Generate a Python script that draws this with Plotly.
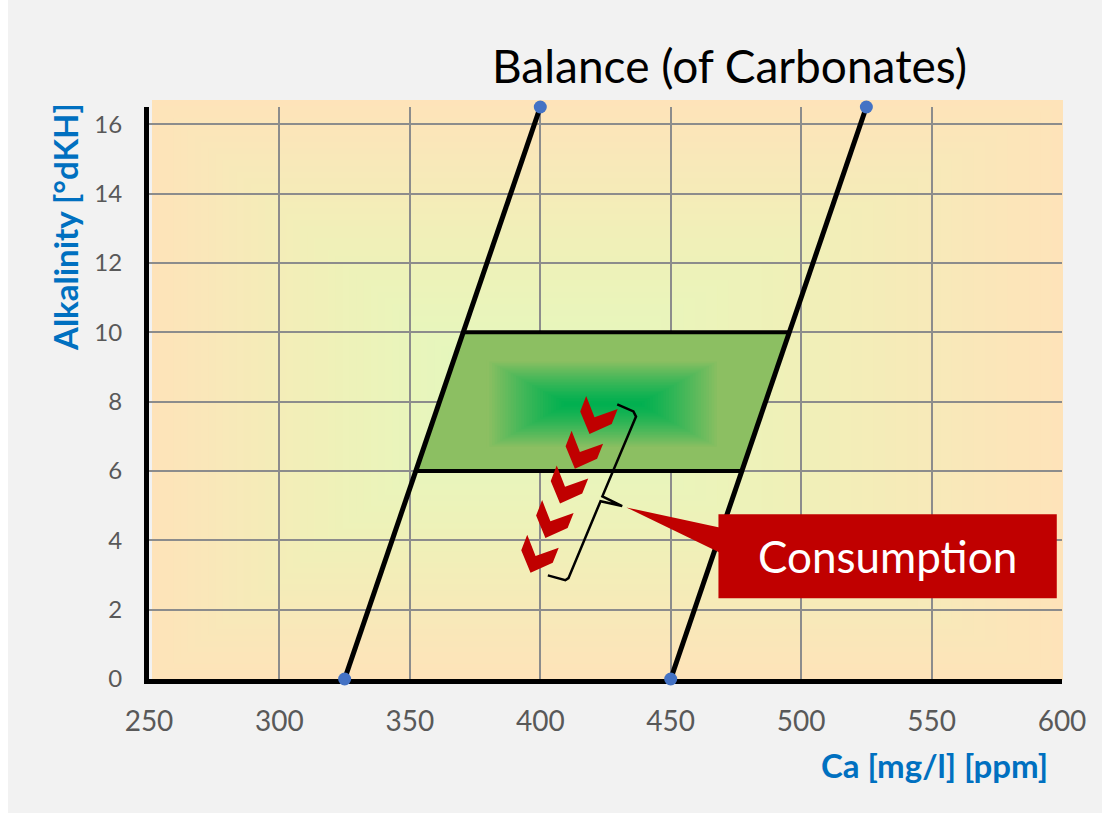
import plotly.graph_objects as go

# ---------------- data ----------------
ca_ticks = [250, 300, 350, 400, 450, 500, 550, 600]
alk_ticks = [0, 2, 4, 6, 8, 10, 12, 14, 16]
ca_low_line = [325, 400]
ca_high_line = [450, 525]
alk_line = [0, 16.5]
target_alk = [6, 10]
chevron_ca = [417.6, 412.0, 406.3, 400.7, 395.0]
chevron_alk = [8.16, 7.16, 6.16, 5.16, 4.16]
brace_ca = [429.5, 435.7, 436.7, 423.8, 431.4, 423.1, 410.8, 409.6, 402.9]
brace_alk = [7.92, 7.72, 7.57, 5.27, 4.99, 5.13, 2.91, 2.85, 2.99]
callout_box_ca = [468.3, 598.0]
callout_box_alk = [2.33, 4.75]
callout_tip = (433.0, 4.95)
callout_base_ca = 468.7
callout_base_alk = [4.37, 3.65]
core_center = (424.1, 7.93)
core_size = (89.3, 2.54)

# ---------------- geometry / style ----------------
W, H = 1102, 813
ML, MT, PW, PH = 149, 107, 913, 572
MR, MB = W - ML - PW, H - MT - PH
XR = [250, 600]
YR = [0, 16.5]
ppx = PW / (XR[1] - XR[0])
ppy = PH / (YR[1] - YR[0])


def fx(px):
    return (px - ML) / PW


def fy(py):
    return (MT + PH - py) / PH


def hex2rgb(h):
    h = h.lstrip('#')
    return [int(h[i:i + 2], 16) for i in (0, 2, 4)]


def mix(stops, t):
    for i in range(len(stops) - 1):
        p0, c0 = stops[i]
        p1, c1 = stops[i + 1]
        if t <= p1 or i == len(stops) - 2:
            u = 0 if p1 == p0 else min(max((t - p0) / (p1 - p0), 0), 1)
            a, b = hex2rgb(c0), hex2rgb(c1)
            return 'rgb(%d,%d,%d)' % tuple(round(a[k] + (b[k] - a[k]) * u) for k in range(3))


def ca_on(line, alk):
    return line[0] + (alk - alk_line[0]) * (line[1] - line[0]) / (alk_line[1] - alk_line[0])


fig = go.Figure()
shapes = []

# white strip at the left edge of the page
shapes.append(dict(type='rect', xref='paper', yref='paper', x0=fx(-5), x1=fx(8), y0=fy(H + 5), y1=fy(-5),
                   fillcolor='white', line_width=0, layer='below'))

# plot-area gradient (rectangular path gradient)
bg_stops = [(0, '#e1f9bf'), (0.5, '#eff1b8'), (1, '#fee3b9')]
L, R, T, B = 152, 1063, 100, 680
cx, cy = 505, 400
N = 50
for i in range(N, 0, -1):
    t = i / N
    shapes.append(dict(type='rect', xref='paper', yref='paper',
                       x0=fx(cx - t * (cx - L)), x1=fx(cx + t * (R - cx)),
                       y0=fy(cy + t * (B - cy)), y1=fy(cy - t * (cy - T)),
                       fillcolor=mix(bg_stops, t), line_width=0, layer='below'))

# target parallelogram fill
par_x = [ca_on(ca_low_line, target_alk[0]), ca_on(ca_high_line, target_alk[0]),
         ca_on(ca_high_line, target_alk[1]), ca_on(ca_low_line, target_alk[1])]
par_y = [target_alk[0], target_alk[0], target_alk[1], target_alk[1]]
edge_green = '#8cbf62'
fig.add_trace(go.Scatter(x=par_x + [par_x[0]], y=par_y + [par_y[0]], mode='lines', fill='toself',
                         fillcolor=edge_green, line=dict(width=0), hoverinfo='skip'))

# core gradient (rectangular path)
core_stops = [(0, '#00b050'), (1, edge_green)]
hw0 = 36 / ppx
NC = 30
for i in range(NC, 0, -1):
    t = i / NC
    hw = hw0 + t * (core_size[0] / 2 - hw0)
    hh = t * core_size[1] / 2
    xs = [core_center[0] - hw, core_center[0] + hw, core_center[0] + hw, core_center[0] - hw, core_center[0] - hw]
    ys = [core_center[1] - hh, core_center[1] - hh, core_center[1] + hh, core_center[1] + hh, core_center[1] - hh]
    fig.add_trace(go.Scatter(x=xs, y=ys, mode='lines', fill='toself', fillcolor=mix(core_stops, t ** 1.3),
                             line=dict(width=0), hoverinfo='skip'))

# horizontal edges of the target zone
for a in target_alk:
    fig.add_trace(go.Scatter(x=[ca_on(ca_low_line, a), ca_on(ca_high_line, a)], y=[a, a], mode='lines',
                             line=dict(color='black', width=4), hoverinfo='skip'))

# chevrons
chev = [(0, 0), (-6, 15.5), (3.3, 38), (25.5, 28), (31.5, 13), (8.3, 21.2), (0, 0)]
for cxv, cyv in zip(chevron_ca, chevron_alk):
    fig.add_trace(go.Scatter(x=[cxv + dx / ppx for dx, dy in chev], y=[cyv - dy / ppy for dx, dy in chev],
                             mode='lines', fill='toself', fillcolor='#c00000', line=dict(width=0),
                             hoverinfo='skip'))

# brace
fig.add_trace(go.Scatter(x=brace_ca, y=brace_alk, mode='lines', line=dict(color='black', width=2.5),
                         hoverinfo='skip'))

# balance lines
for line in (ca_low_line, ca_high_line):
    fig.add_trace(go.Scatter(x=line, y=alk_line, mode='lines+markers', cliponaxis=False,
                             line=dict(color='black', width=5),
                             marker=dict(color='#4472c4', size=13, line=dict(width=0)), hoverinfo='skip'))

# callout
shapes.append(dict(type='path', xref='x', yref='y', layer='above', line_width=0, fillcolor='#c00000',
                   path='M %f,%f L %f,%f L %f,%f Z' % (callout_tip[0], callout_tip[1],
                                                       callout_base_ca, callout_base_alk[0],
                                                       callout_base_ca, callout_base_alk[1])))
shapes.append(dict(type='rect', xref='x', yref='y', layer='above', line_width=0, fillcolor='#c00000',
                   x0=callout_box_ca[0], x1=callout_box_ca[1], y0=callout_box_alk[0], y1=callout_box_alk[1]))

annotations = [
    dict(text='Balance (of Carbonates)', xref='paper', yref='paper', x=fx(729), y=fy(65),
         xanchor='center', yanchor='middle', showarrow=False, font=dict(size=46, color='black', family='Lato')),
    dict(text='<b>Alkalinity [°dKH]</b>', xref='paper', yref='paper', x=fx(65), y=fy(227), textangle=-90,
         xanchor='center', yanchor='middle', showarrow=False, font=dict(size=33, color='#0070c0', family='Lato')),
    dict(text='<b>Ca [mg/l] [ppm]</b>', xref='paper', yref='paper', x=fx(1050), y=fy(765),
         xanchor='right', yanchor='middle', showarrow=False, font=dict(size=33, color='#0070c0', family='Lato')),
    dict(text='Consumption', xref='x', yref='y', x=(callout_box_ca[0] + callout_box_ca[1]) / 2,
         y=(callout_box_alk[0] + callout_box_alk[1]) / 2, xanchor='center', yanchor='middle', showarrow=False,
         font=dict(size=44, color='white', family='Lato')),
]

fig.update_layout(
    width=W, height=H, margin=dict(l=ML, r=MR, t=MT, b=MB, pad=0),
    paper_bgcolor='#f2f2f2', plot_bgcolor='rgba(0,0,0,0)', showlegend=False,
    shapes=shapes, annotations=annotations, font=dict(family='Lato'),
)
fig.update_xaxes(range=XR, tickvals=ca_ticks, ticktext=[str(v) for v in ca_ticks], showgrid=True,
                 gridcolor='#8c8c8c', gridwidth=1.5, showline=True, linecolor='black', linewidth=5,
                 zeroline=False, ticks='', tickfont=dict(size=28, color='#595959', family='Lato'),
                 ticklabelstandoff=13, fixedrange=True, layer='below traces')
fig.update_yaxes(range=YR, tickvals=alk_ticks, ticktext=[str(v) for v in alk_ticks], showgrid=True,
                 gridcolor='#8c8c8c', gridwidth=1.5, showline=True, linecolor='black', linewidth=5,
                 zeroline=False, ticks='', tickfont=dict(size=24, color='#595959', family='Lato'),
                 ticklabelstandoff=17, fixedrange=True, layer='below traces')

fig.write_html('out.html', config={'displayModeBar': False},
               post_script="document.body.style.margin='0';document.body.style.overflow='hidden';"
                           "document.body.style.background='#f2f2f2';")
